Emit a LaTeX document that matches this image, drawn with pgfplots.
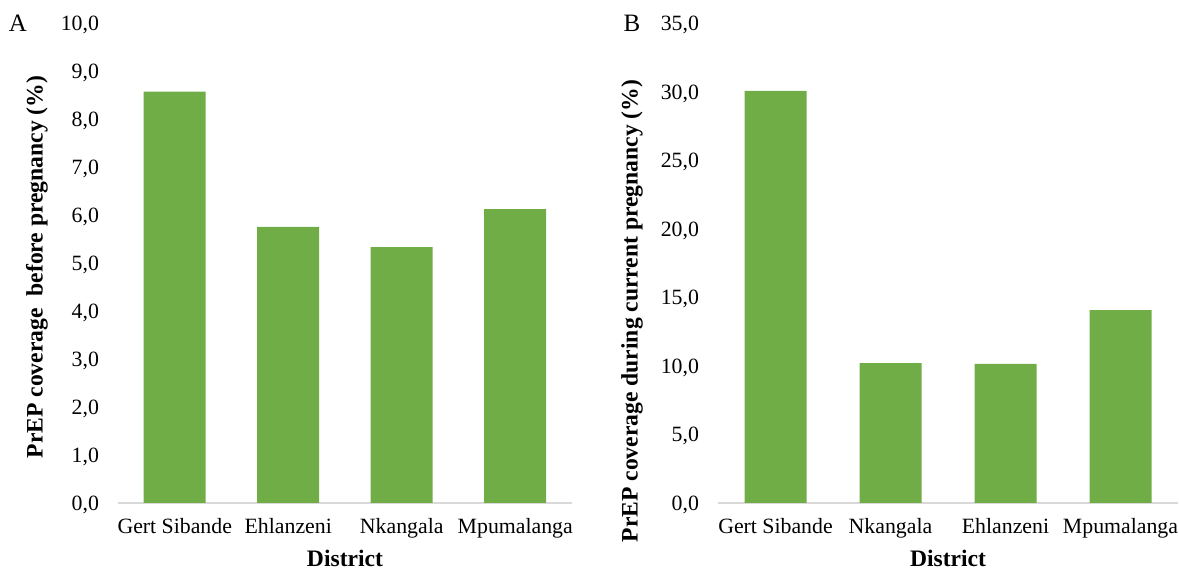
\documentclass[border=0pt]{standalone}
\usepackage{pgfplots}
\pgfplotsset{compat=1.18}
\usepackage{fontspec}
\setmainfont{Liberation Serif}
\definecolor{bargreen}{HTML}{70AD47}
\definecolor{axgray}{HTML}{D9D9D9}

\pgfplotsset{
  districtbars/.style={
    scale only axis, height=240pt, ymin=0,
    xmin=-0.5, xmax=3.5, xtick={0,1,2,3},
    axis x line*=bottom, axis y line*=left,
    x axis line style={draw=axgray, line width=0.9pt, -},
    y axis line style={draw=none},
    major tick length=0pt,
    ybar, bar width=31pt, clip=false,
    tick label style={font=\fontsize{10.9}{12}\selectfont, text=black},
    yticklabel style={/pgf/number format/.cd, fixed, fixed zerofill, precision=1,
      use comma, assume math mode=true, /tikz/.cd, xshift=-6pt, yshift=-1pt},
    xticklabel style={yshift=-4pt},
    xlabel={District},
    xlabel style={at={(axis description cs:0.5,0)}, anchor=base, yshift=-32pt,
      font=\fontsize{11.8}{13}\selectfont\bfseries},
    ylabel style={at={(axis description cs:0,0.5)}, anchor=center,
      font=\fontsize{11.8}{13}\selectfont\bfseries},
  }
}

\begin{document}
\begin{tikzpicture}
\useasboundingbox (-59pt,-34pt) rectangle (530.5pt,251.5pt);
% A: before pregnancy
\begin{axis}[districtbars, at={(0,0)}, anchor=south west,
  width=227pt, ymax=10, ytick={0,1,...,10},
  xticklabels={Gert Sibande, Ehlanzeni, Nkangala, Mpumalanga},
  ylabel={PrEP coverage\ \ before pregnancy (\%)},
  ylabel style={yshift=40.5pt, xshift=-2pt}]
\addplot[fill=bargreen, draw=none] coordinates {(0,8.57) (1,5.75) (2,5.33) (3,6.12)};
\node[font=\fontsize{12.5}{14}\selectfont] at ([xshift=-50pt,yshift=0pt]axis description cs:0,1) {A};
\end{axis}
% B: during current pregnancy
\begin{axis}[districtbars, at={(300pt,0)}, anchor=south west,
  width=230pt, ymax=35, ytick={0,5,...,35},
  xticklabels={Gert Sibande, Nkangala, Ehlanzeni, Mpumalanga},
  ylabel={PrEP coverage during current pregnancy (\%)},
  ylabel style={yshift=43pt, xshift=-24pt}]
\addplot[fill=bargreen, draw=none] coordinates {(0,30.05) (1,10.2) (2,10.15) (3,14.07)};
\node[font=\fontsize{12.5}{14}\selectfont] at ([xshift=-43pt,yshift=0pt]axis description cs:0,1) {B};
\end{axis}
\end{tikzpicture}
\end{document}
